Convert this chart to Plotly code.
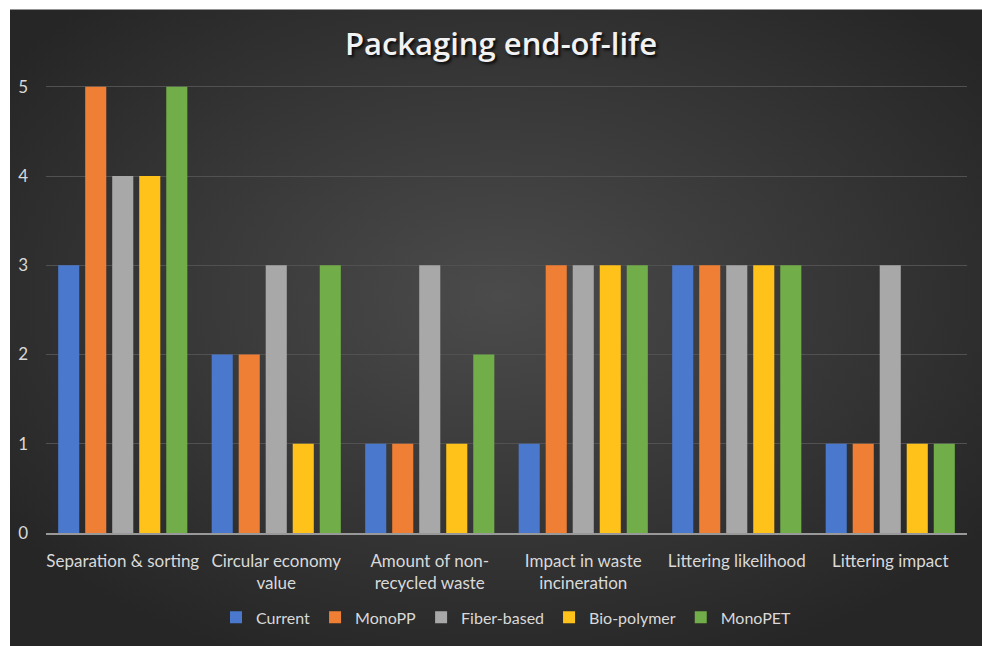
import base64
import plotly.graph_objects as go

categories = ["Separation & sorting", "Circular economy<br>value", "Amount of non-<br>recycled waste",
              "Impact in waste<br>incineration", "Littering likelihood", "Littering impact"]
series_names = ["Current", "MonoPP", "Fiber-based", "Bio-polymer", "MonoPET"]
current = [3, 2, 1, 1, 3, 1]
monopp = [5, 2, 1, 3, 3, 1]
fiber = [4, 3, 3, 3, 3, 3]
biopoly = [4, 1, 1, 3, 3, 1]
monopet = [5, 3, 2, 3, 3, 1]
colors = ["#4a78cc", "#ef7f35", "#a8a8a8", "#ffc21a", "#71ad48"]

W, H = 982, 646
ML, MR, MT, MB = 46, 15, 69, 109
pw, ph = W - ML - MR, H - MT - MB

fig = go.Figure()
for name, vals, c in zip(series_names, [current, monopp, fiber, biopoly, monopet], colors):
    fig.add_trace(go.Bar(x=categories, y=vals, name=name, marker=dict(color=c, line=dict(width=0))))

svg = '''<svg xmlns="http://www.w3.org/2000/svg" width="980" height="645" viewBox="0 0 980 645" preserveAspectRatio="none">
<defs><radialGradient id="g" cx="50%" cy="45%" r="62%">
<stop offset="0%" stop-color="#4b4b4b"/><stop offset="100%" stop-color="#262626"/>
</radialGradient></defs><rect width="980" height="645" fill="url(#g)"/></svg>'''
src = "data:image/svg+xml;base64," + base64.b64encode(svg.encode()).decode()

x0 = (10 - ML) / pw
x1 = (W + 6 - ML) / pw
ytop = (H - MB - 9) / ph
ybot = (H - MB - H - 6) / ph
fig.add_layout_image(dict(source=src, xref="paper", yref="paper", x=x0, y=ytop,
                          sizex=x1 - x0, sizey=ytop - ybot, sizing="stretch",
                          xanchor="left", yanchor="top", layer="below"))

# white frame on left and top edges, as in the reference picture
fig.add_shape(type="rect", xref="paper", yref="paper", x0=(-20 - ML) / pw, x1=(10 - ML) / pw,
              y0=(H - MB - H - 20) / ph, y1=(H - MB + 20) / ph,
              fillcolor="white", line=dict(width=0), layer="below")
fig.add_shape(type="rect", xref="paper", yref="paper", x0=(-20 - ML) / pw, x1=(W + 20 - ML) / pw,
              y0=(H - MB - 9) / ph, y1=(H - MB + 20) / ph,
              fillcolor="white", line=dict(width=0), layer="below")

fnt = "Lato, Open Sans, sans-serif"
fig.update_layout(
    width=W, height=H,
    margin=dict(l=ML, r=MR, t=MT, b=MB),
    paper_bgcolor="#272727", plot_bgcolor="rgba(0,0,0,0)",
    title=dict(text="Packaging end-of-life", x=501 / W, xanchor="center",
               y=1 - 44 / H, yanchor="middle",
               font=dict(family="Open Sans, sans-serif", size=31, weight=600, color="#f2f2f2",
                         shadow="2px 2px 3px rgba(0,0,0,0.85)")),
    barmode="group", bargap=0.12, bargroupgap=0.22,
    font=dict(family=fnt, color="#d9d9d9", size=16),
    legend=dict(orientation="h", x=0.5, xanchor="center", y=-0.182, yanchor="middle",
                font=dict(family=fnt, size=16, color="#d9d9d9"), bgcolor="rgba(0,0,0,0)",
                itemwidth=30, traceorder="normal"),
    showlegend=True,
)
fig.update_xaxes(showgrid=False, showline=True, linecolor="#999999", linewidth=1.5,
                 tickfont=dict(family=fnt, size=17, color="#d9d9d9"), ticks="",
                 ticklabelstandoff=12, fixedrange=True)
fig.update_yaxes(range=[0, 5.2], dtick=1, showgrid=True, gridcolor="#515151", gridwidth=1,
                 zeroline=False, showline=False, ticks="",
                 tickfont=dict(family=fnt, size=17, color="#d9d9d9"), ticklabelstandoff=17)

fig.write_html("out.html")
